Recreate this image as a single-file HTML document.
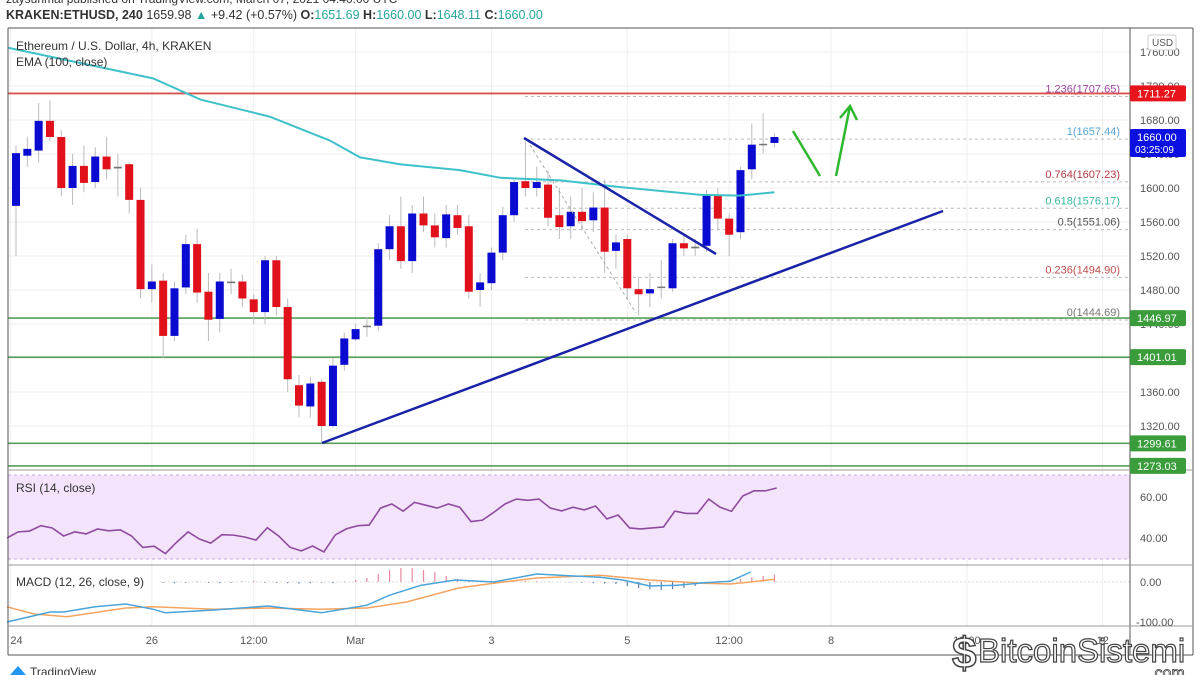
<!DOCTYPE html>
<html><head><meta charset="utf-8"><style>
html,body{margin:0;padding:0;background:#fff;width:1200px;height:675px;overflow:hidden}
svg{display:block;font-family:"Liberation Sans",sans-serif}
</style></head><body>
<svg id="c" width="1200" height="675" viewBox="0 0 1200 675">
<text x="6" y="3" font-size="12" fill="#333">zaysunmal published on TradingView.com, March 07, 2021 04:40:00 UTC</text>
<text x="6" y="19" font-size="12.5" font-weight="bold" fill="#333">KRAKEN:ETHUSD, 240 <tspan font-weight="normal">1659.98</tspan> <tspan fill="#26a69a">▲</tspan> <tspan font-weight="normal">+9.42 (+0.57%)</tspan> O:<tspan fill="#26a69a" font-weight="normal">1651.69</tspan> H:<tspan fill="#26a69a" font-weight="normal">1660.00</tspan> L:<tspan fill="#26a69a" font-weight="normal">1648.11</tspan> C:<tspan fill="#26a69a" font-weight="normal">1660.00</tspan></text>
<g id="grid"></g>
<rect x="8" y="475" width="1122" height="84" fill="#f3e4fc"/>
<line x1="8" y1="475" x2="1130" y2="475" stroke="#c9a8e0" stroke-dasharray="3,3"/>
<line x1="8" y1="559" x2="1130" y2="559" stroke="#c9a8e0" stroke-dasharray="3,3"/>
<g id="levels"></g>
<g id="candles"></g>
<g id="ind"></g>
<line x1="322" y1="443" x2="943" y2="211" stroke="#1a22a8" stroke-width="2.5"/>
<line x1="524" y1="138" x2="716" y2="254" stroke="#1a22a8" stroke-width="2.5"/>
<line x1="530" y1="145" x2="636" y2="313" stroke="#aaa" stroke-dasharray="3,3"/>
<g stroke="#2eb82e" stroke-width="2.5" fill="none">
<polyline points="793,131 820,176"/><polyline points="836,176 850,106"/><polyline points="840,118 850,106 857,120"/></g>
<g font-size="11" fill="#666">
<text x="16" y="50" font-size="12" fill="#333">Ethereum / U.S. Dollar, 4h, KRAKEN</text>
<text x="16" y="66" font-size="12" fill="#333">EMA (100, close)</text>
<text x="16" y="492" font-size="12" fill="#333">RSI (14, close)</text>
<text x="16" y="586" font-size="12" fill="#333">MACD (12, 26, close, 9)</text>
</g>
<line x1="8" y1="28" x2="8" y2="655" stroke="#555"/>
<line x1="8" y1="28" x2="1193" y2="28" stroke="#555"/>
<line x1="1193" y1="28" x2="1193" y2="655" stroke="#555"/>
<line x1="8" y1="655" x2="1193" y2="655" stroke="#555"/>
<line x1="1130" y1="28" x2="1130" y2="655" stroke="#555"/>
<line x1="8" y1="470" x2="1193" y2="470" stroke="#999"/>
<line x1="8" y1="565" x2="1193" y2="565" stroke="#999"/>
<line x1="8" y1="626" x2="1193" y2="626" stroke="#999"/>
<g id="axis" font-size="11" fill="#555"></g>
<rect x="1148" y="35" width="28" height="15" fill="#fff" stroke="#ccc" rx="2"/>
<text x="1152" y="46" font-size="10" fill="#555">USD</text>
<g id="badges" font-size="11" fill="#fff"></g>
<g><path d="M10 675 l8 -9 l8 9 z" fill="#2196f3"/><text x="30" y="676" font-size="12" fill="#333">TradingView</text></g>
<g>
<text x="952" y="668" font-size="44" font-weight="bold" fill="#fff" stroke="#444" stroke-width="1.5">$</text>
<text x="978" y="662" font-size="33" fill="#fff" stroke="#444" stroke-width="1.2">BitcoinSistemi</text>
<text x="1150" y="678" font-size="16" fill="#fff" stroke="#444" stroke-width="0.8">.com</text></g>
</svg>
<script>
const opens=[1579,1638,1644,1679,1660,1600,1626,1607,1637,1623,1628,1586,1481,1491,1426,1483,1534,1478,1446,1490,1490,1469,1454,1515,1460,1368,1343,1372,1320,1392,1422,1438,1438,1528,1555,1514,1570,1556,1541,1568,1555,1480,1488,1524,1568,1608,1600,1604,1568,1555,1572,1562,1577,1526,1540,1481,1476,1484,1482,1535,1531,1532,1591,1564,1548,1622,1651,1653];
const closes=[1641,1646,1679,1660,1600,1626,1606,1637,1622,1625,1586,1481,1490,1426,1482,1534,1477,1445,1490,1488,1470,1454,1515,1460,1375,1344,1370,1320,1391,1423,1434,1438,1528,1555,1514,1570,1556,1542,1569,1553,1478,1489,1524,1568,1607,1600,1607,1565,1554,1572,1561,1577,1525,1536,1482,1475,1481,1484,1535,1529,1529,1591,1564,1545,1621,1651,1652,1660];
const highs=[1650,1660,1700,1703,1668,1640,1650,1648,1660,1640,1630,1600,1510,1500,1490,1545,1552,1500,1500,1505,1498,1475,1520,1520,1470,1380,1378,1375,1400,1430,1440,1448,1535,1568,1590,1580,1590,1570,1580,1580,1568,1500,1530,1578,1612,1655,1625,1620,1600,1590,1600,1595,1610,1545,1545,1495,1500,1515,1540,1545,1540,1598,1600,1570,1625,1676,1688,1664];
const lows=[1520,1625,1630,1655,1590,1580,1595,1600,1610,1590,1570,1470,1465,1400,1420,1475,1465,1420,1430,1475,1460,1440,1440,1450,1360,1330,1330,1300,1318,1385,1420,1425,1432,1515,1505,1500,1548,1530,1530,1545,1470,1460,1480,1515,1560,1590,1590,1555,1540,1540,1550,1548,1500,1505,1470,1450,1460,1470,1478,1520,1520,1525,1550,1520,1540,1610,1640,1648];
const emaIdx=[-0.7,12.1,16.3,22.4,27.7,30.4,33.9,39.2,42.8,48.1,53.4,60.4,63.9,67];
const emaVal=[1765,1729,1704,1684,1656,1636,1628,1621,1612,1609,1601,1592,1591,1595];
const rsi=[40,43,43.4,46,44.9,41,43,42,44.4,43.5,44,41,35.4,36,32.4,38,43,39.5,37.5,41.6,41.4,40.5,39,45,41,35.5,33.7,36.1,33.2,41.5,44.5,46,46.3,54.6,56.6,53.1,57.4,56,54.6,56.6,55,48,48.7,52.5,56.6,59,58.4,59,54.6,53.2,55,53.7,55.6,49.3,51.2,44.9,44.4,44.9,45.4,53.1,52,52,59,55,53,60.5,63,63,64.4];
const macdIdx=[-0.8,3,4.2,7,9.7,12.1,13.2,17.5,22.3,27,31,33,35.8,38.8,42.2,46,49.3,51.6,53.6,56,58.4,60.8,63.1,64.9];
const macdVal=[-100,-75,-75,-62,-55,-68,-77,-70,-60,-77,-58,-33,-8,5,0,20,15,12,5,-10,-8,-2,2,25];
const sigIdx=[-0.8,1.6,4.5,9.7,12.1,17.5,22.3,27,31,34.5,39.1,42.2,46,51.6,56,60.8,63.1,64.9,67];
const sigVal=[-62,-80,-87,-65,-62,-68,-65,-68,-65,-50,-15,-3,10,17,5,-3,-5,0,7];
const hist=[0,0,0,0,0,0,0,0,0,0,0,0,0,-2,-3,-2,2,-2,-3,-2,2,3,-2,-2,-3,-4,-3,-2,-3,2,5,10,20,30,35,35,30,25,15,8,4,2,3,5,4,3,2,1,0,-1,-2,-3,-4,-5,-10,-15,-18,-20,-18,-15,-10,-5,-2,3,8,12,15,18];
const priceTicks=[1320,1360,1400,1440,1480,1520,1560,1600,1640,1680,1720,1760];
const rsiTicks=[40,60];
const macdTicks=[0,-100];
const dateLabels=["24","26","12:00","Mar","3","5","12:00","8","12:00","12"];
const datePos=[-0.5,12,21,30,42,54,63,72,84,96];
const fibLevels=[1707.65,1657.44,1607.23,1576.17,1551.06,1494.90,1444.69];
const fibNames=["1.236","1","0.764","0.618","0.5","0.236","0"];
const fibColors=["#a0479e","#57a6d6","#b23a48","#3ab7a0","#555","#c0504d","#777"];
const greenLevels=[1446.97,1401.01,1299.61,1273.03];
const redLevel=1711.27;

const NS="http://www.w3.org/2000/svg";
const X=i=>16+i*11.32;
const Y=p=>188-(p-1600)*0.85;
const RY=v=>497-(v-60)*2.05;
const MY=v=>582-v*0.4;
function mk(parent,tag,attrs){const e=document.createElementNS(NS,tag);for(const k in attrs)e.setAttribute(k,attrs[k]);document.getElementById(parent).appendChild(e);return e;}

// grid
priceTicks.forEach(p=>{const l=mk('grid','line',{x1:8,x2:1130,y1:Y(p),y2:Y(p),stroke:'#eee'});

});
datePos.forEach(d=>{const l=mk('grid','line',{x1:X(d),x2:X(d),y1:28,y2:626,stroke:'#eee'});

});
// levels
fibLevels.forEach((f,i)=>{const l=mk('levels','line',{x1:525,x2:1130,y1:Y(f),y2:Y(f),stroke:'#bbb','stroke-dasharray':'3,3'});


const t=mk('levels','text',{x:1120,y:Y(f)-4,'text-anchor':'end','font-size':11,fill:fibColors[i]});


t.textContent=fibNames[i]+'('+f.toFixed(2)+')';});
greenLevels.forEach(g=>{const l=mk('levels','line',{x1:8,x2:1130,y1:Y(g),y2:Y(g),stroke:'#5a9e5a','stroke-width':1.6});

});
const rl=mk('levels','line',{x1:8,x2:1130,y1:Y(redLevel),y2:Y(redLevel),stroke:'#d9534f','stroke-width':1.8});


// candles
opens.forEach((o,i)=>{const c=closes[i],up=c>=o,x=X(i);
const w=mk('candles','line',{x1:x,x2:x,y1:Y(highs[i]),y2:Y(lows[i]),stroke:'#bbb'});


const top=Y(Math.max(o,c)),h=Math.max(1.5,Math.abs(Y(o)-Y(c)));
const b=mk('candles','rect',{x:x-4,y:top,width:8,height:h,fill:Math.abs(c-o)<3?'#777':(up?'#0a0ad0':'#e0111b')});

});
// EMA
const ema=mk('ind','polyline',{points:emaIdx.map((k,j)=>X(k)+','+Y(emaVal[j])).join(' '),fill:'none',stroke:'#3fc1c9','stroke-width':2});


// RSI
const rs=mk('ind','polyline',{points:rsi.map((v,j)=>X(j-0.8)+','+RY(v)).join(' '),fill:'none',stroke:'#8e4b9e','stroke-width':1.6});


// MACD
const zl=mk('ind','line',{x1:160,x2:1130,y1:MY(0),y2:MY(0),stroke:'#ddd','stroke-dasharray':'2,2'});


hist.forEach((v,i)=>{if(!v)return;const b=mk('ind','line',{x1:X(i),x2:X(i),y1:MY(0),y2:MY(v),stroke:v>0?'#e88aa0':'#5c7fa8','stroke-width':1.2});

});
const sg=mk('ind','polyline',{points:sigIdx.map((k,j)=>X(k)+','+MY(sigVal[j])).join(' '),fill:'none',stroke:'#f4a460','stroke-width':1.5});


const md=mk('ind','polyline',{points:macdIdx.map((k,j)=>X(k)+','+MY(macdVal[j])).join(' '),fill:'none',stroke:'#4aa3d9','stroke-width':1.5});


// axes
priceTicks.forEach(p=>{const t=mk('axis','text',{x:1140,y:Y(p)+4});


t.textContent=p.toFixed(2);});
rsiTicks.forEach(v=>{const t=mk('axis','text',{x:1140,y:RY(v)+4});


t.textContent=v.toFixed(2);});
macdTicks.forEach(v=>{const t=mk('axis','text',{x:v<0?1136:1140,y:MY(v)+4});


t.textContent=v.toFixed(2);});
dateLabels.forEach((d,i)=>{const t=mk('axis','text',{x:X(datePos[i]),y:644,'text-anchor':i==0?'start':'middle'});


t.textContent=d;});
// badges
function badge(p,col,txt,h){const r=mk('badges','rect',{x:1130,y:Y(p)-8,width:56,height:h||16,fill:col,rx:2});


const t=mk('badges','text',{x:1137,y:Y(p)+4});


t.textContent=txt;return t;}
badge(redLevel,'#e8141c',redLevel.toFixed(2));
badge(1660,'#0c10e0','1660.00',28);
const tm=mk('badges','text',{x:1135,y:Y(1660)+16,'font-size':10});


tm.textContent='03:25:09';
greenLevels.forEach(g=>badge(g,'#3a9c3a',g.toFixed(2)));
</script>
</body></html>
